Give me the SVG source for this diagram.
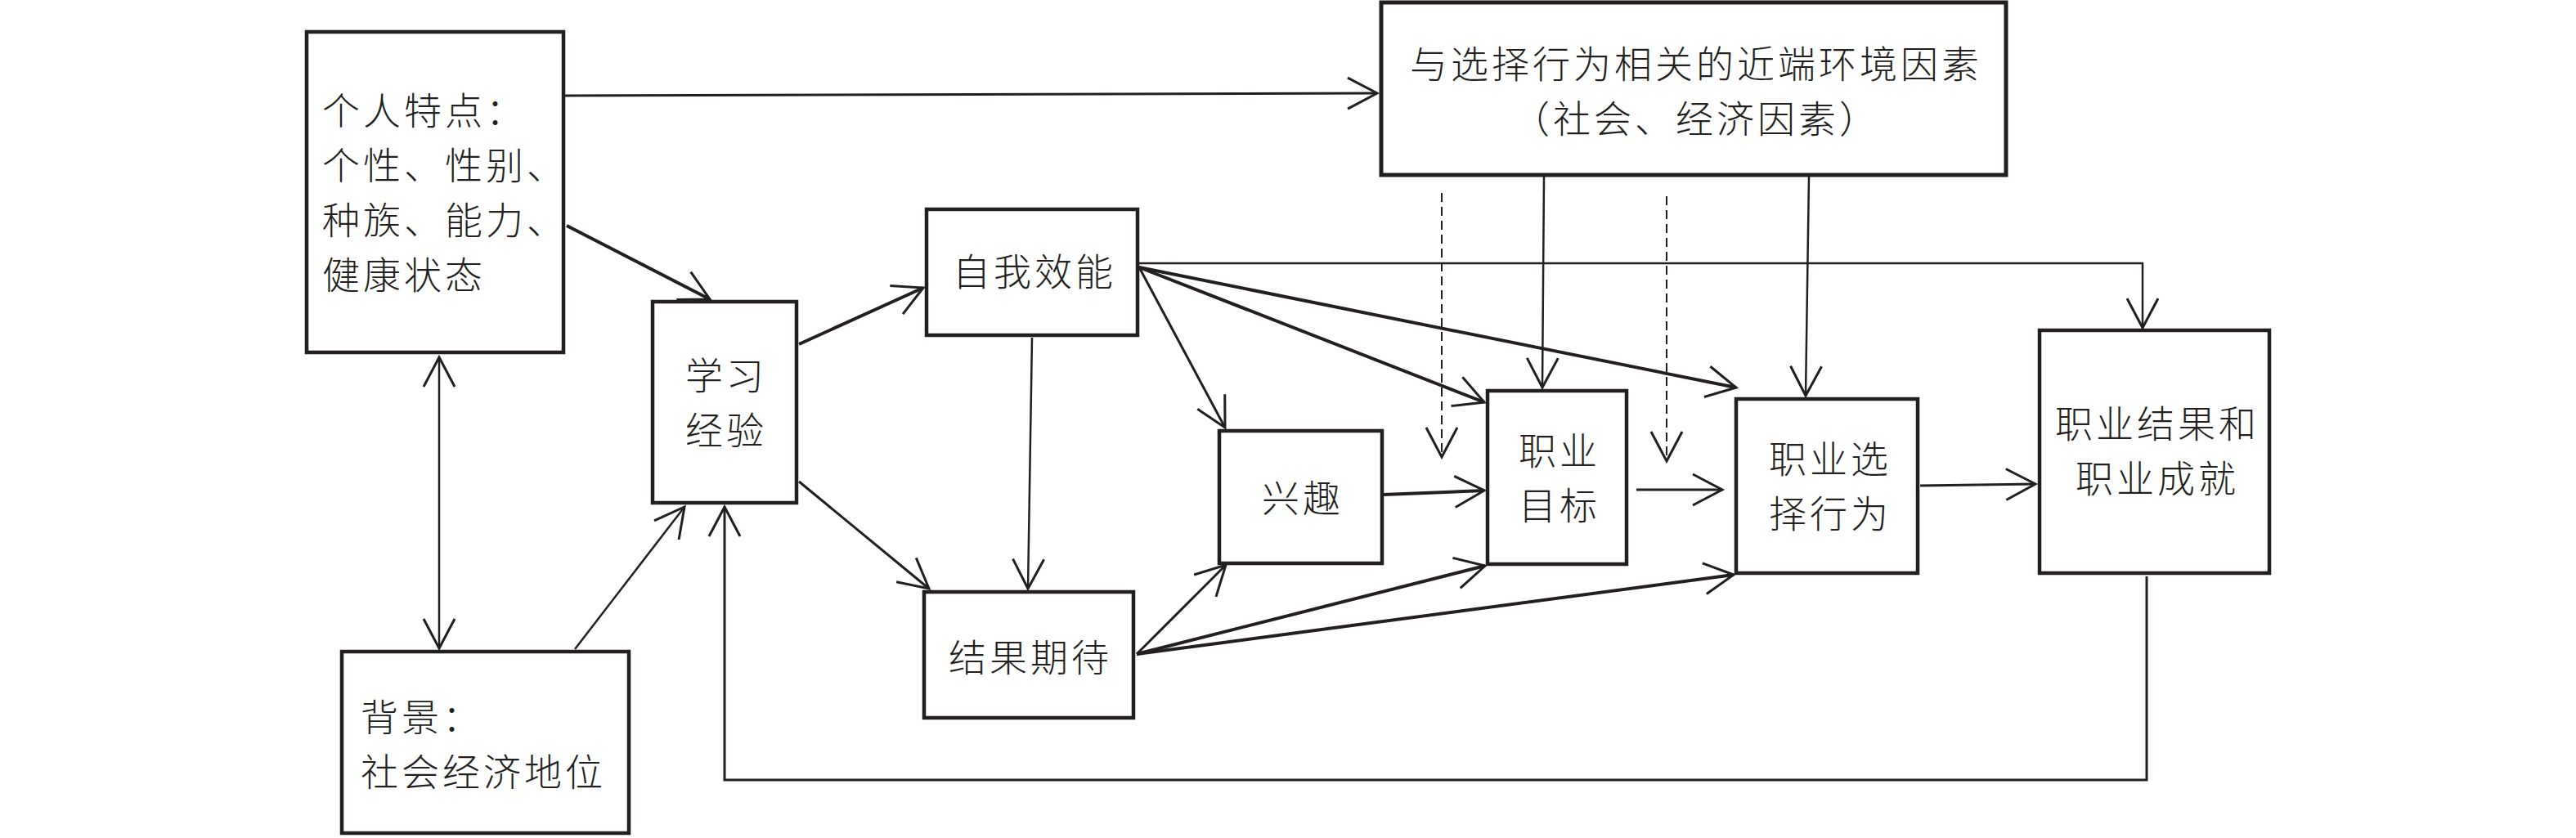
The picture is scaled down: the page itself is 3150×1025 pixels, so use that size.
<svg xmlns="http://www.w3.org/2000/svg" width="3150" height="1025" viewBox="0 0 3150 1025">
<style>
.box{fill:#fff;stroke:#231f20;stroke-width:4.5}
.t{font-family:"Noto Sans CJK SC","Noto Sans CJK JP",sans-serif;font-size:46px;font-weight:300;fill:#231f20;letter-spacing:4px}
.c{text-anchor:middle}
.ln{fill:none;stroke:#231f20;stroke-width:2.5;marker-end:url(#arr)}
.tk{stroke-width:4}
.md{stroke-width:3}
.ds{stroke-dasharray:11 6;stroke-width:2}
</style>
<defs>
<marker id="arr" markerUnits="userSpaceOnUse" viewBox="-40 -24 44 48" markerWidth="44" markerHeight="48" refX="0" refY="0" orient="auto-start-reverse">
<path d="M-36,-19 L0,0 L-36,19" fill="none" stroke="#231f20" stroke-width="3"/>
</marker>
</defs>
<rect width="3150" height="1025" fill="#fff"/>
<g id="connectors">
<path class="ln md" d="M691,117 L1684,114"/>
<path class="ln tk" d="M693,276 L868,366"/>
<path class="ln" d="M537,437 L537,793" marker-start="url(#arr)"/>
<path class="ln" d="M703,794 L837,620"/>
<path class="ln md" d="M2625,705 L2625,954 L886,954 L886,620"/>
<path class="ln tk" d="M977,421 L1129,352"/>
<path class="ln md" d="M977,589 L1136,720"/>
<path class="ln" d="M1262,413 L1257,720"/>
<path class="ln md" d="M1393,327 L1498,523"/>
<path class="ln tk" d="M1393,327 L1815,492"/>
<path class="ln tk" d="M1393,327 L2123,474"/>
<path class="ln" d="M1393,322 L2620,322 L2620,401"/>
<path class="ln" d="M1888,216 L1886,474"/>
<path class="ln" d="M2212,216 L2208,484"/>
<path class="ln ds" d="M1763,236 L1763,559"/>
<path class="ln ds" d="M2038,240 L2038,564"/>
<path class="ln tk" d="M1692,605 L1815,600"/>
<path class="ln md" d="M2001,599 L2106,599"/>
<path class="ln md" d="M2348,594 L2489,592"/>
<path class="ln md" d="M1390,800 L1499,691"/>
<path class="ln tk" d="M1390,800 L1816,692"/>
<path class="ln tk" d="M1390,800 L2120,703"/>
</g>
<g id="personal">
<rect class="box" x="375" y="39" width="314" height="392"/>
<text class="t" x="394" y="152">个人特点：<tspan x="394" dy="67">个性、性别、</tspan><tspan x="394" dy="67">种族、能力、</tspan><tspan x="394" dy="67">健康状态</tspan></text>
</g>
<g id="learning">
<rect class="box" x="798" y="369" width="176" height="246"/>
<text class="t c" x="888" y="476">学习<tspan x="888" dy="67">经验</tspan></text>
</g>
<g id="selfefficacy">
<rect class="box" x="1133" y="256" width="258" height="154"/>
<text class="t c" x="1265" y="349">自我效能</text>
</g>
<g id="outcome">
<rect class="box" x="1130" y="724" width="256" height="154"/>
<text class="t c" x="1260" y="821">结果期待</text>
</g>
<g id="interest">
<rect class="box" x="1491" y="527" width="199" height="162"/>
<text class="t c" x="1593" y="626">兴趣</text>
</g>
<g id="goal">
<rect class="box" x="1819" y="478" width="170" height="212"/>
<text class="t c" x="1907" y="568">职业<tspan x="1907" dy="67">目标</tspan></text>
</g>
<g id="choice">
<rect class="box" x="2123" y="488" width="222" height="213"/>
<text class="t c" x="2238" y="578">职业选<tspan x="2238" dy="67">择行为</tspan></text>
</g>
<g id="result">
<rect class="box" x="2494" y="404" width="281" height="297"/>
<text class="t c" x="2638" y="535">职业结果和<tspan x="2638" dy="67">职业成就</tspan></text>
</g>
<g id="background">
<rect class="box" x="418" y="797" width="351" height="222"/>
<text class="t" x="441" y="894">背景：<tspan x="441" dy="67">社会经济地位</tspan></text>
</g>
<g id="environment">
<rect class="box" x="1689" y="3" width="764" height="211" style="stroke-width:5"/>
<text class="t c" x="2074" y="95">与选择行为相关的近端环境因素<tspan x="2074" dy="67">（社会、经济因素）</tspan></text>
</g>
</svg>
